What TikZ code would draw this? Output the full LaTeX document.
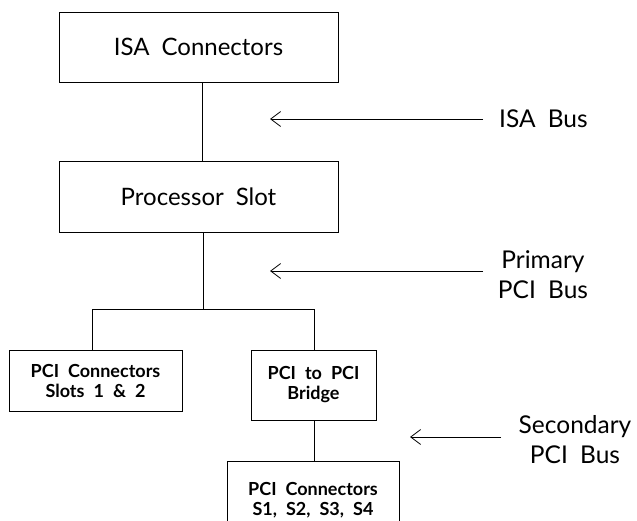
\documentclass[tikz,border=0pt]{standalone}
\usepackage{fontspec}
\setmainfont{Lato}
\usetikzlibrary{arrows.meta}
\newcommand{\wgap}{\hspace{0.5em}}
\begin{document}
\begin{tikzpicture}[x=1pt,y=-1pt,
  bigbox/.style={draw,line width=0.8pt,inner sep=0pt,minimum width=279pt,minimum height=70pt,
     font=\fontsize{24}{30}\selectfont},
  smallbox/.style={draw,line width=0.8pt,inner sep=0pt,align=center,
     font=\fontsize{18}{20}\selectfont\bfseries},
  buslabel/.style={inner sep=0pt,align=center,font=\fontsize{24.5}{30}\selectfont},
  link/.style={line width=0.8pt},
  busarrow/.style={line width=0.8pt,-{Straight Barb[length=10pt,width=15pt,line width=0.8pt]}}]
\useasboundingbox (0,0) rectangle (637,521);
\clip (0,0) rectangle (637,521);
\node[bigbox] (isa) at (198.5,47) {ISA\wgap Connectors};
\node[bigbox,minimum height=71pt] (proc) at (198.5,196.5) {Processor\wgap Slot};
\node[smallbox,minimum width=173pt,minimum height=61pt] (left) at (95.5,380.5) {PCI\wgap Connectors\\Slots\wgap 1\wgap \&\wgap 2};
\node[smallbox,minimum width=125pt,minimum height=70pt] (bridge) at (313.5,385) {PCI\wgap to\wgap PCI\\Bridge};
\node[smallbox,minimum width=172pt,minimum height=79pt] (bottom) at (313,500.5) {PCI\wgap Connectors\\S1,\wgap S2,\wgap S3,\wgap S4};
\node[buslabel,anchor=west] (isabus) at (499,119) {ISA\wgap Bus};
\node[buslabel] (pribus) at (543,275) {Primary\\PCI\wgap Bus};
\node[buslabel] (secbus) at (575,440) {Secondary\\PCI\wgap Bus};
\coordinate (jl) at (92,309);
\coordinate (jr) at (314,309);
\coordinate (jm) at (203.5,309);
\coordinate (isatip) at (270,119);
\coordinate (isastart) at (483,119);
\coordinate (pritip) at (270,271);
\coordinate (pristart) at (483,271);
\coordinate (sectip) at (410,437);
\coordinate (secstart) at (501,437);
\draw[link] ([xshift=3.5pt]isa.south) -- ([xshift=3.5pt]proc.north);
\draw[link] ([xshift=5pt]proc.south) -- (jm);
\draw[link] (left.north -| jl) -- (jl) -- (jr) -- (bridge.north -| jr);
\draw[link] (bridge.south -| jr) -- (bottom.north -| jr);
\draw[busarrow] (isastart) -- (isatip);
\draw[busarrow] (pristart) -- (pritip);
\draw[busarrow] (secstart) -- (sectip);
\end{tikzpicture}
\end{document}
